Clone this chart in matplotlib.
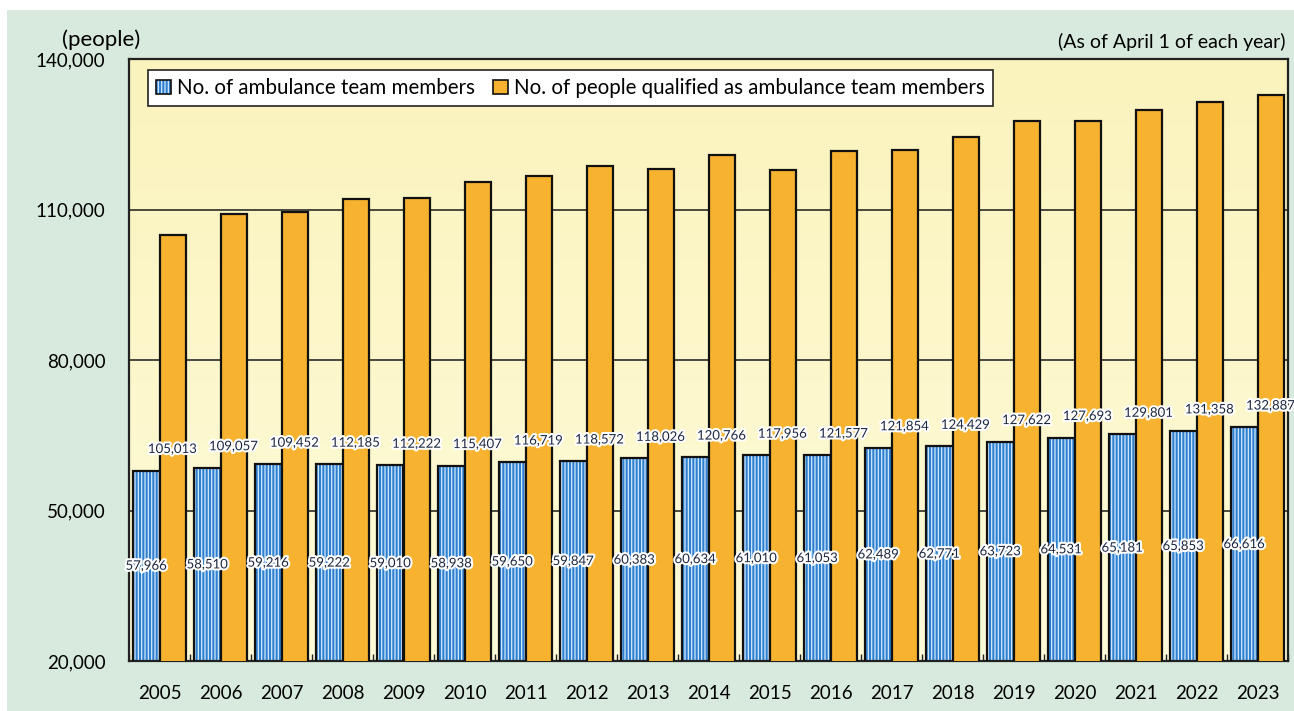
import numpy as np
import matplotlib.pyplot as plt
import matplotlib.patheffects as pe
from matplotlib.patches import Patch, Rectangle
from matplotlib.ticker import FuncFormatter
from matplotlib.colors import LinearSegmentedColormap

plt.rcParams['font.family'] = ['Lato', 'DejaVu Sans']
plt.rcParams['hatch.color'] = '#d4e9fa'
plt.rcParams['hatch.linewidth'] = 0.9

# data
years = ['2005', '2006', '2007', '2008', '2009', '2010', '2011', '2012', '2013', '2014',
         '2015', '2016', '2017', '2018', '2019', '2020', '2021', '2022', '2023']
members = [57966, 58510, 59216, 59222, 59010, 58938, 59650, 59847, 60383, 60634,
           61010, 61053, 62489, 62771, 63723, 64531, 65181, 65853, 66616]
qualified = [105013, 109057, 109452, 112185, 112222, 115407, 116719, 118572, 118026, 120766,
             117956, 121577, 121854, 124429, 127622, 127693, 129801, 131358, 132887]
yticks = [20000, 50000, 80000, 110000, 140000]

blue = '#2f7fd0'
orange = '#f7b22f'
green_bg = '#d7eadd'

fig = plt.figure(figsize=(12.94, 7.11), dpi=100)
fig.patch.set_facecolor('white')
fig.patches.append(Rectangle((7 / 1294, 0), 1, 1 - 10 / 711, transform=fig.transFigure,
                             facecolor=green_bg, edgecolor='none', zorder=-10))

ax = fig.add_axes([129 / 1294, 1 - 661 / 711, 1159 / 1294, 602 / 711])

x = np.arange(len(years))
w = 0.43

ax.set_xlim(-0.5, len(years) - 0.5)
ax.set_ylim(20000, 140000)

# yellow gradient background
grad = np.linspace(0, 1, 256).reshape(-1, 1)
cmap = LinearSegmentedColormap.from_list('bg', ['#fefbd9', '#fbf3bd'])
ax.imshow(grad, aspect='auto', cmap=cmap, origin='lower',
          extent=[-0.5, len(years) - 0.5, 20000, 140000], zorder=0)

for yv in yticks[1:-1]:
    ax.axhline(yv, color='#1a1a1a', lw=1.1, zorder=1)

# blue hatched bars (hatch drawn white, outline separately)
ax.bar(x - w / 2, members, w, color=blue, hatch='|||||', linewidth=0, zorder=2)
ax.bar(x - w / 2, members, w, fill=False, edgecolor='#111111', linewidth=1.6, zorder=3)
ax.bar(x + w / 2, qualified, w, color=orange, edgecolor='#111111', linewidth=1.6, zorder=3)

stroke = [pe.withStroke(linewidth=3, foreground='white')]
for i in range(len(years)):
    ax.text(x[i] - w / 2, (20000 + members[i]) / 2, f'{members[i]:,}', ha='center', va='center',
            fontsize=9.5, color='#1c2640', path_effects=stroke, zorder=5)
    ax.text(x[i] + w / 2, members[i] + 4300, f'{qualified[i]:,}', ha='center', va='center',
            fontsize=9.5, color='#1c2640', path_effects=stroke, zorder=5)

ax.set_yticks(yticks)
ax.yaxis.set_major_formatter(FuncFormatter(lambda v, p: f'{int(v):,}'))
ax.tick_params(axis='y', direction='in', length=0, pad=17, labelsize=13.5)
ax.set_xticks(x)
ax.set_xticklabels(years)
ax.tick_params(axis='x', length=0, pad=17, labelsize=13.5)
ax.set_xticks(np.arange(len(years) + 1) - 0.5, minor=True)
ax.tick_params(axis='x', which='minor', direction='in', length=5, width=1, color='#222222')

for s in ax.spines.values():
    s.set_linewidth(1.6)
    s.set_color('#222222')

fig.text(101 / 1294, 1 - 40 / 711, '(people)', ha='center', va='center', fontsize=16)
fig.text(1286 / 1294, 1 - 42 / 711, '(As of April 1 of each year)', ha='right', va='center',
         fontsize=14)

h_blue = (Patch(facecolor=blue, hatch='|||||', linewidth=0),
          Patch(fill=False, edgecolor='#111111', linewidth=1.2))
h_orange = Patch(facecolor=orange, edgecolor='#111111', linewidth=1.2)
leg = ax.legend([h_blue, h_orange],
                ['No. of ambulance team members', 'No. of people qualified as ambulance team members'],
                loc='upper left', bbox_to_anchor=(0.0164, 0.982), ncol=2, fontsize=14.8,
                frameon=True, fancybox=False, edgecolor='#222222', framealpha=1,
                handlelength=0.7, handleheight=0.7, handletextpad=0.3, columnspacing=0.9,
                borderpad=0.4, borderaxespad=0)
leg.get_frame().set_linewidth(1.2)
leg.set_zorder(6)

fig.savefig('out.png', dpi=100)
